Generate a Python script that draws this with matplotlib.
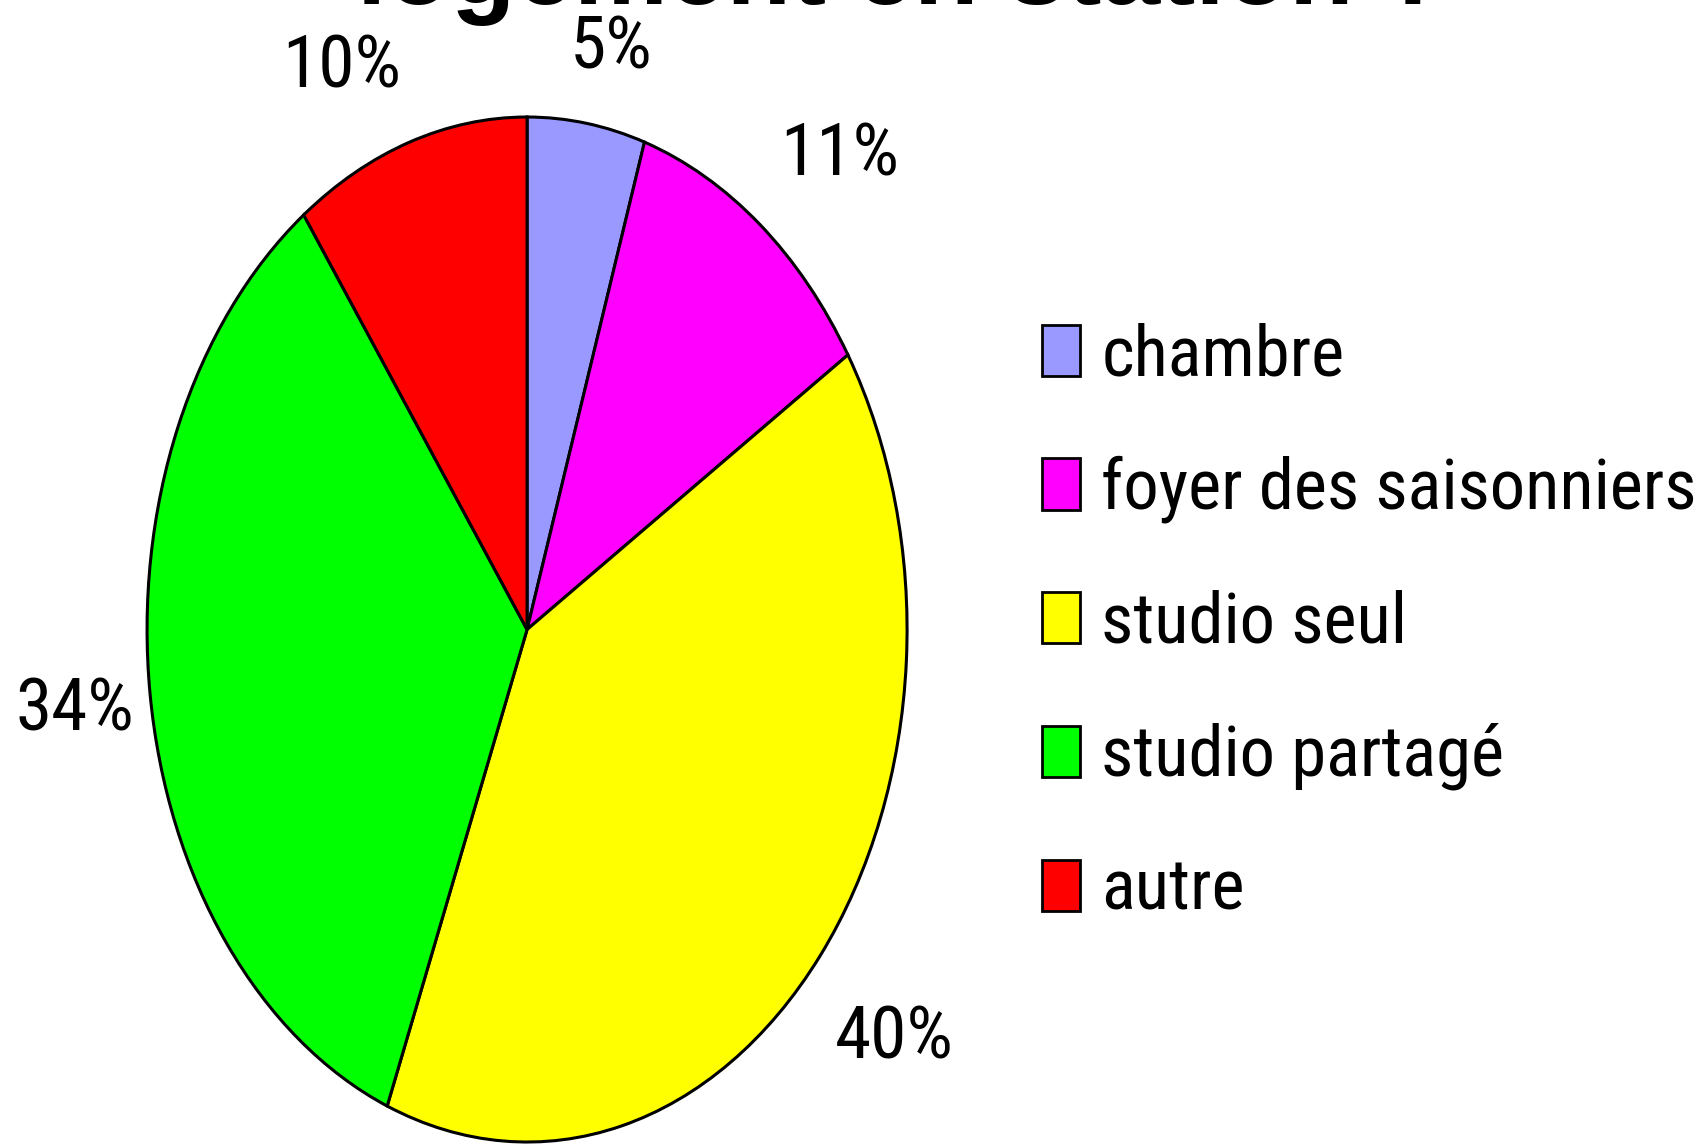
import numpy as np
import matplotlib
matplotlib.use("Agg")
import matplotlib.pyplot as plt
from matplotlib import font_manager as fm
from matplotlib.patches import Patch

# data
categories = ["chambre", "foyer des saisonniers", "studio seul", "studio partagé", "autre"]
values = [5, 11, 40, 34, 10]
pct_labels = ["5%", "11%", "40%", "34%", "10%"]
colors = ["#9999FF", "#FF00FF", "#FFFF00", "#00FF00", "#FF0000"]

# small hand nudges (pixels, x right / y up) so labels sit like the original
label_nudge = [(13, 0), (25, 9), (5, -35), (14, -8), (-40, 2)]

DPI = 100


def pick_narrow_family():
    # the reference uses a condensed sans; take one if the system has it
    names = sorted({f.name for f in fm.fontManager.ttflist})
    for want in ["Liberation Sans Narrow", "Arial Narrow", "Noto Sans Condensed",
                 "Roboto Condensed", "Open Sans Condensed", "DejaVu Sans Condensed"]:
        if want in names:
            return [want, "Liberation Sans", "DejaVu Sans"]
    for n in names:
        if "Narrow" in n or ("Condensed" in n and "Semi" not in n and "Extra" not in n):
            return [n, "Liberation Sans", "DejaVu Sans"]
    return ["Liberation Sans", "DejaVu Sans"]


NARROW = pick_narrow_family()

fig = plt.figure(figsize=(17.06, 11.45), dpi=DPI)
fig.patch.set_facecolor("white")
renderer = fig.canvas.get_renderer()

# fit the font size so the longest legend entry is ~596 px wide (max 52 pt)
probe = fig.text(0, 0, "foyer des saisonniers", fontsize=52, family=NARROW)
w = probe.get_window_extent(renderer).width
probe.remove()
fs = min(52.0, 52.0 * 596.0 / w)
em = fs * DPI / 72.0

# pie is stretched vertically (ellipse), so aspect stays auto
ax = fig.add_axes([0.0862, 0.0026, 0.4455, 0.8952])
wedges, _ = ax.pie(values, colors=colors, startangle=90, counterclock=False,
                   radius=1.0,
                   wedgeprops=dict(edgecolor="black", linewidth=2.2))
ax.set_aspect("auto")
ax.set_xlim(-1, 1)
ax.set_ylim(-1, 1)
ax.axis("off")
for wd in wedges:
    wd.set_clip_on(False)

# percentage labels outside the wedges
gap = 1.08
for wd, lab, (nx, ny) in zip(wedges, pct_labels, label_nudge):
    mid = np.deg2rad((wd.theta1 + wd.theta2) / 2)
    ux, uy = np.cos(mid), np.sin(mid)
    t = ax.annotate(lab, xy=(gap * ux, gap * uy), xycoords="data",
                    xytext=(0, 0), textcoords="offset pixels",
                    ha="center", va="center", fontsize=fs * 1.04, family=NARROW,
                    annotation_clip=False)
    bb = t.get_window_extent(renderer)
    t.set_position((bb.width / 2 * ux + nx, bb.height / 2 * uy + ny))

handles = [Patch(facecolor=c, edgecolor="black", linewidth=2) for c in colors]
fig.legend(handles, categories, loc="center left", bbox_to_anchor=(0.611, 0.456),
           frameon=False, borderpad=0, borderaxespad=0,
           handlelength=38 / em, handleheight=52 / em, handletextpad=21 / em,
           labelspacing=(132 - 0.93 * em) / em, prop=dict(family=NARROW, size=fs))

fig.text(0.529, 1 - 4 / 1145, "logement en station ?", ha="center", va="baseline",
         fontsize=76, fontweight="bold", family=["Liberation Sans", "DejaVu Sans"])

fig.savefig("out.png", dpi=DPI)
